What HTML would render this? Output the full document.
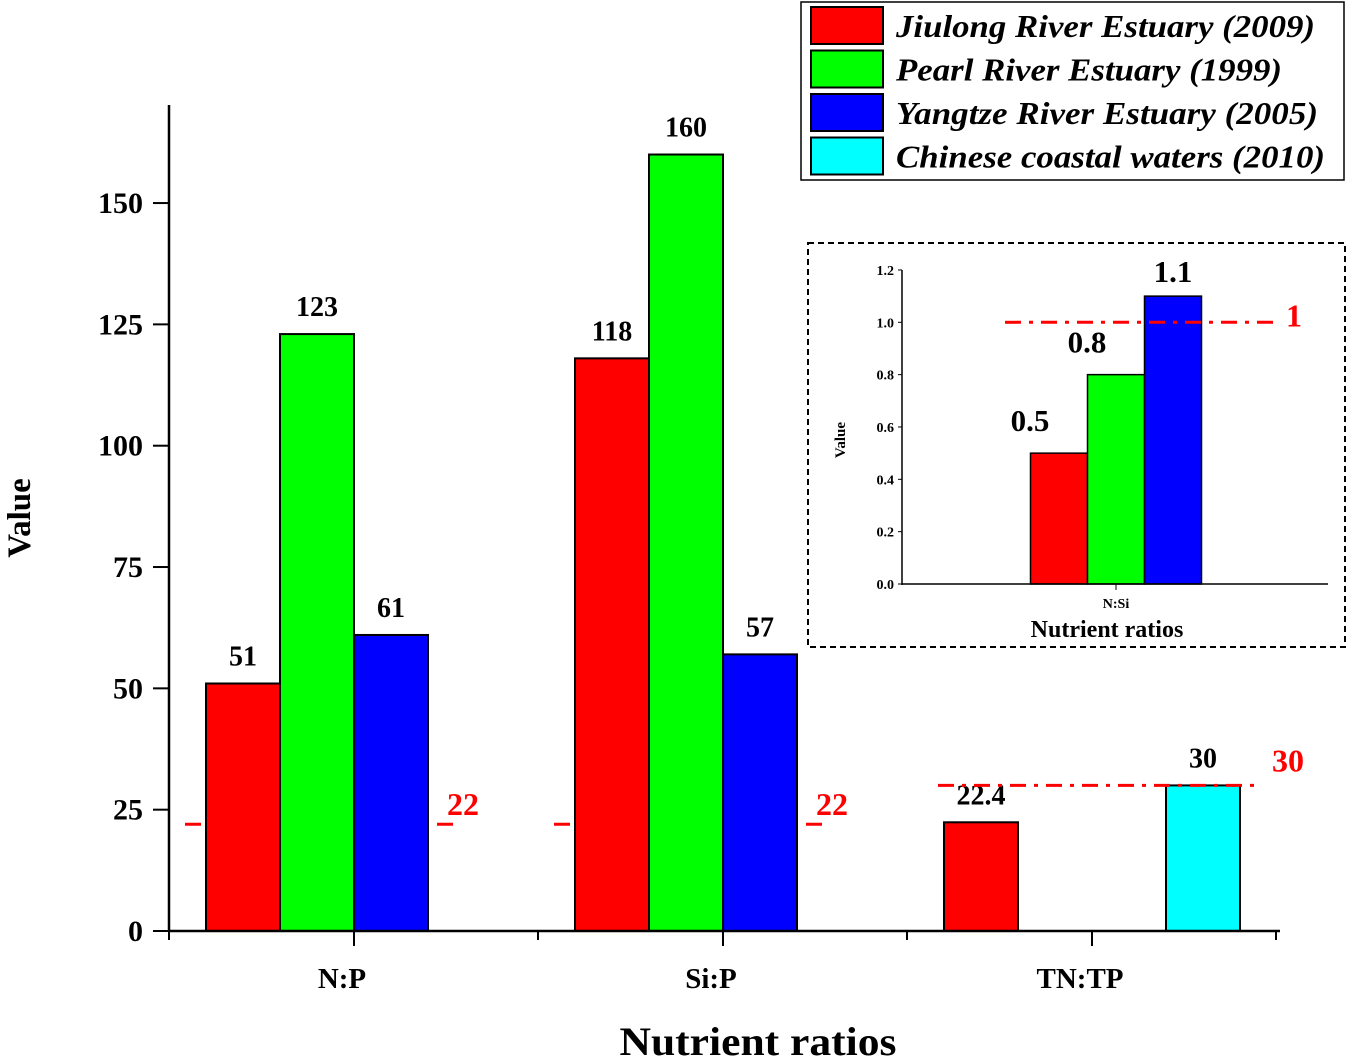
<!DOCTYPE html>
<html><head><meta charset="utf-8"><style>
body{margin:0;background:#fff}
svg{display:block;font-family:"Liberation Serif",serif;font-weight:bold}
</style></head><body>
<svg id="chart" width="1355" height="1059" viewBox="0 0 1355 1059" xmlns="http://www.w3.org/2000/svg">
<g id="main"></g>
<g id="inset"></g>
<g id="legend"></g>
</svg>
<script>
const categories = ["N:P", "Si:P", "TN:TP"];
const seriesNames = ["Jiulong River Estuary (2009)", "Pearl River Estuary (1999)", "Yangtze River Estuary (2005)", "Chinese coastal waters (2010)"];
const seriesColors = ["#ff0000", "#00ff00", "#0000ff", "#00ffff"];
const jiulong = [51, 118, 22.4];
const pearl = [123, 160, null];
const yangtze = [61, 57, null];
const coastal = [null, null, 30];
const valueLabels = [["51","118","22.4"],["123","160",""],["61","57",""],["","","30"]];
const yTicks = [0, 25, 50, 75, 100, 125, 150];
const refValues = [22, 22, 30];
const refLabels = ["22", "22", "30"];
const insetCategories = ["N:Si"];
const insetValues = [0.5, 0.8, 1.1];
const insetLabels = ["0.5", "0.8", "1.1"];
const insetTicks = [0, 0.2, 0.4, 0.6, 0.8, 1.0, 1.2];
const insetRef = 1;

const NS = "http://www.w3.org/2000/svg";
function mk(parent, tag, attrs, text){
  const e = document.createElementNS(NS, tag);
  for (const k in attrs) e.setAttribute(k, attrs[k]);
  if (text !== undefined) e.textContent = text;
  parent.appendChild(e);
  return e;
}
const y = v => 931 - v * 4.853;
const xc = i => 354 + i * 369;
const slot = 74;
const main = document.getElementById("main");
const allSeries = [jiulong, pearl, yangtze, coastal];

refValues.forEach((r, i) => {
  const x1 = i < 2 ? xc(i) - 169 : xc(i) - 154;
  const x2 = i < 2 ? xc(i) + 101 : xc(i) + 163;
  const l = mk(main, "line", {x1, x2, y1: y(r), y2: y(r), stroke: "#ff0000", "stroke-width": 3, "stroke-dasharray": "16 8 4 8"});
  
  
  if (i === 2) l.setAttribute('id', 'ref-top');
  const t = mk(main, "text", {x: i < 2 ? x2 - 8 : x2 + 17, y: y(r) - (i < 2 ? 9 : 14), fill: "#ff0000", "font-size": 32}, refLabels[i]);
  
  
});

allSeries.forEach((s, si) => {
  s.forEach((v, ci) => {
    if (v === null) return;
    const x = xc(ci) - 2 * slot + si * slot;
    const r = mk(main, "rect", {x, y: y(v), width: slot, height: 931 - y(v), fill: seriesColors[si], stroke: "#000", "stroke-width": 2});
    
    
    const t = mk(main, "text", {x: x + slot / 2, y: y(v) - 18, "text-anchor": "middle", "font-size": 28}, valueLabels[si][ci]);
    
    
  });
});
main.appendChild(document.getElementById("ref-top"));

mk(main, "line", {x1: 169, x2: 169, y1: 105, y2: 932, stroke: "#000", "stroke-width": 2.5});
mk(main, "line", {x1: 168, x2: 1280, y1: 931, y2: 931, stroke: "#000", "stroke-width": 2.5});
yTicks.forEach(v => {
  mk(main, "line", {x1: 153, x2: 169, y1: y(v), y2: y(v), stroke: "#000", "stroke-width": 2});
  const t = mk(main, "text", {x: 143, y: y(v) + 10, "text-anchor": "end", "font-size": 30}, String(v));
  
  
});
for (let i = 0; i <= categories.length; i++) {
  const xm = xc(i) - 185;
  mk(main, "line", {x1: xm, x2: xm, y1: 931, y2: 940, stroke: "#000", "stroke-width": 2});
}
categories.forEach((c, i) => {
  mk(main, "line", {x1: xc(i), x2: xc(i), y1: 931, y2: 946, stroke: "#000", "stroke-width": 2});
  const t = mk(main, "text", {x: xc(i) - 12, y: 988, "text-anchor": "middle", "font-size": 29}, c);
  
  
});
const xt = mk(main, "text", {x: 758, y: 1055, "text-anchor": "middle", "font-size": 40, textLength: 277, lengthAdjust: "spacingAndGlyphs"}, "Nutrient ratios");


const yt = mk(main, "text", {x: 0, y: 0, transform: "translate(30,518) rotate(-90)", "text-anchor": "middle", "font-size": 33}, "Value");



const inset = document.getElementById("inset");


mk(inset, "rect", {x: 808, y: 243, width: 537, height: 404, fill: "none", stroke: "#000", "stroke-width": 2, "stroke-dasharray": "6 4"});
const iy = v => 584 - v * 261.7;
const ixc = i => 1116 + i * 200;
const islot = 57;
insetValues.forEach((v, si) => {
  const x = ixc(0) - 1.5 * islot + si * islot;
  const r = mk(inset, "rect", {x, y: iy(v), width: islot, height: 584 - iy(v), fill: seriesColors[si], stroke: "#000", "stroke-width": 1.5});
  
  
  const t = mk(inset, "text", {x: si === 2 ? x + islot / 2 : x + islot / 2 - 29, y: iy(v) - (si === 2 ? 14 : 22), "text-anchor": "middle", "font-size": 31}, insetLabels[si]);
  
  
});
mk(inset, "line", {x1: 1005, x2: 1277, y1: iy(insetRef), y2: iy(insetRef), stroke: "#ff0000", "stroke-width": 3, "stroke-dasharray": "16 8 4 8"});
const il = mk(inset, "text", {x: 1286, y: iy(insetRef) + 4, fill: "#ff0000", "font-size": 32}, "1");


mk(inset, "line", {x1: 902, x2: 902, y1: 270, y2: 585, stroke: "#000", "stroke-width": 1.5});
mk(inset, "line", {x1: 902, x2: 1328, y1: 584, y2: 584, stroke: "#000", "stroke-width": 1.5});
insetTicks.forEach(v => {
  mk(inset, "line", {x1: 898, x2: 902, y1: iy(v), y2: iy(v), stroke: "#000", "stroke-width": 1});
  const t = mk(inset, "text", {x: 894, y: iy(v) + 5, "text-anchor": "end", "font-size": 14}, v.toFixed(1));
  
  
});
insetCategories.forEach((c, i) => {
  mk(inset, "line", {x1: ixc(i), x2: ixc(i), y1: 584, y2: 590, stroke: "#000", "stroke-width": 1});
  const t = mk(inset, "text", {x: ixc(i), y: 608, "text-anchor": "middle", "font-size": 14}, c);
  
  
});
const ixt = mk(inset, "text", {x: 1107, y: 637, "text-anchor": "middle", "font-size": 24}, "Nutrient ratios");


const iyt = mk(inset, "text", {x: 0, y: 0, transform: "translate(845,440) rotate(-90)", "text-anchor": "middle", "font-size": 15}, "Value");



const legend = document.getElementById("legend");
mk(legend, "rect", {x: 801, y: 2, width: 543, height: 178, fill: "#fff", stroke: "#000", "stroke-width": 1.5});
const legendWidths = [419, 386, 422, 429];
seriesNames.forEach((n, i) => {
  const ty = 7 + i * 43.5;
  const g = mk(legend, "g", {});
  
  
  mk(g, "rect", {x: 811, y: ty, width: 72, height: 37, fill: seriesColors[i], stroke: "#000", "stroke-width": 2});
  mk(g, "text", {x: 896, y: ty + 30, "font-size": 32, "font-style": "italic", textLength: legendWidths[i], lengthAdjust: "spacingAndGlyphs"}, n);
});
</script>
</body></html>
